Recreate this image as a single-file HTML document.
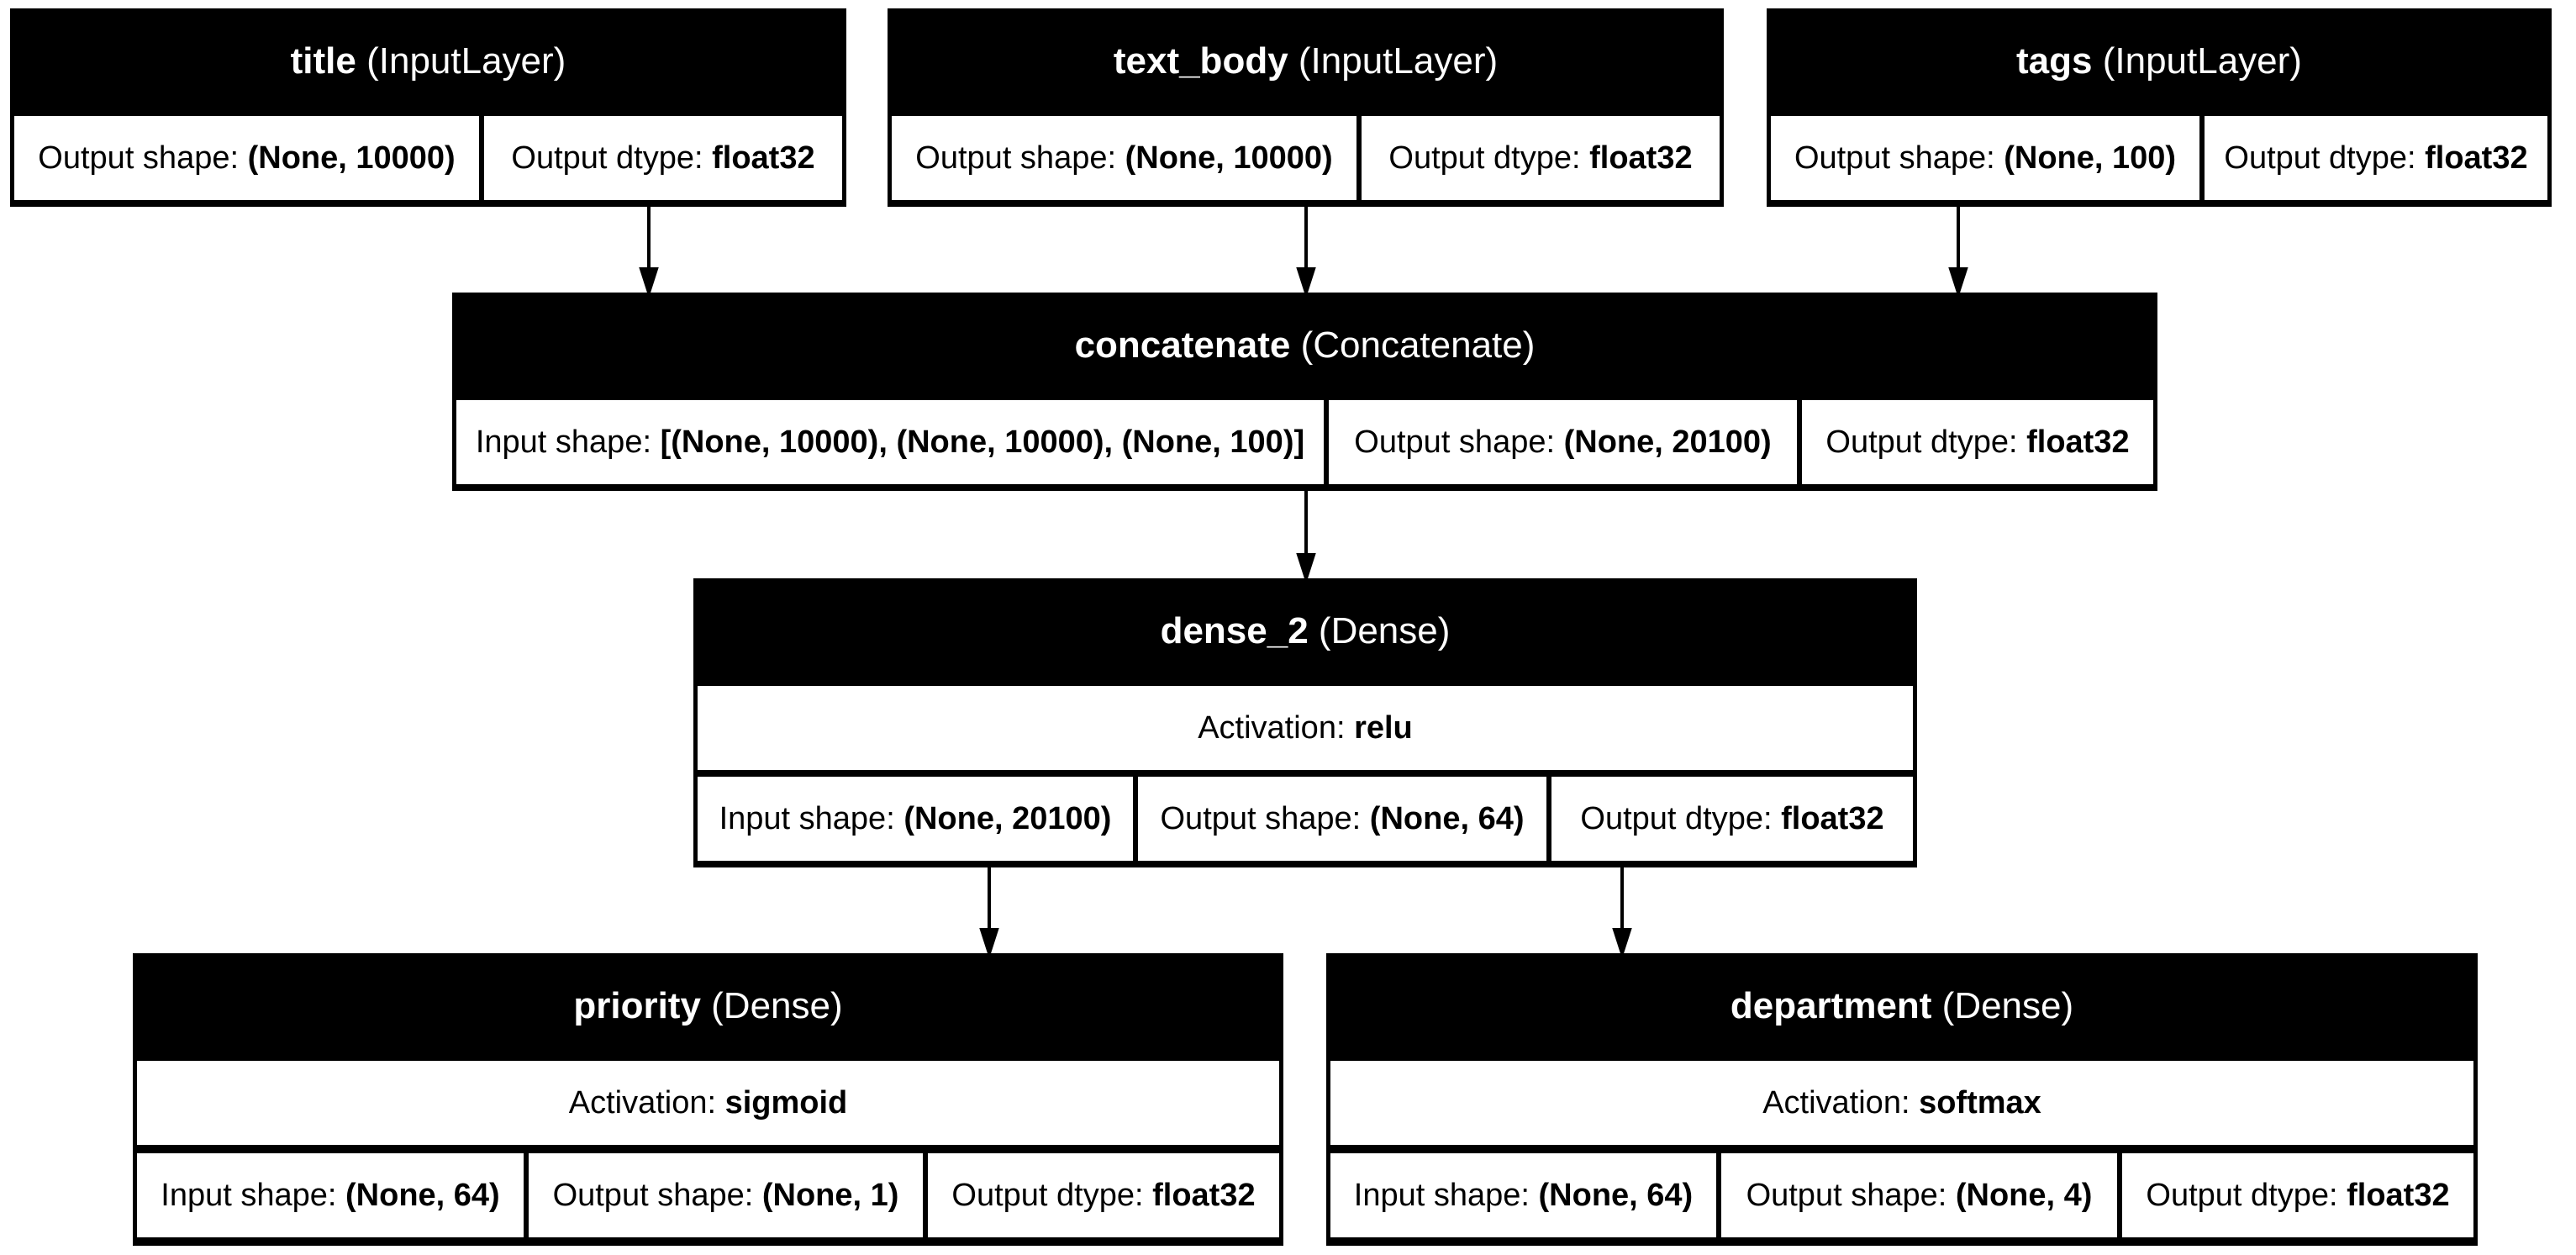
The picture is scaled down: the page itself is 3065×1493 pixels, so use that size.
<!DOCTYPE html>
<html><head><meta charset="utf-8">
<style>
html,body{margin:0;padding:0;background:#fff;}
body{width:3065px;height:1493px;position:relative;overflow:hidden;font-family:"Liberation Sans",Arial,sans-serif;font-size:38px;}
.b{position:absolute;background:#000;}
.h{position:absolute;left:0;right:0;top:0;height:126px;color:#fff;display:flex;align-items:center;justify-content:center;white-space:nowrap;font-size:44px;}
.c{position:absolute;background:#fff;height:100px;display:flex;align-items:center;justify-content:center;white-space:nowrap;color:#000;}
b{font-weight:bold;}
svg{position:absolute;left:0;top:0;}
</style></head><body>
<svg width="3065" height="1493">
<g stroke="#000" stroke-width="4" fill="#000">
<line x1="772" y1="244" x2="772" y2="322"/><polygon points="763,320 781,320 772,348"/>
<line x1="1554" y1="244" x2="1554" y2="322"/><polygon points="1545,320 1563,320 1554,348"/>
<line x1="2330" y1="244" x2="2330" y2="322"/><polygon points="2321,320 2339,320 2330,348"/>
<line x1="1554" y1="582" x2="1554" y2="662"/><polygon points="1545,660 1563,660 1554,688"/>
<line x1="1177" y1="1030" x2="1177" y2="1108"/><polygon points="1168,1106 1186,1106 1177,1134"/>
<line x1="1930" y1="1030" x2="1930" y2="1108"/><polygon points="1921,1106 1939,1106 1930,1134"/>
</g></svg>

<div class="b" style="left:12px;top:10px;width:995px;height:236px;">
<div class="h"><b>title</b>&nbsp;(InputLayer)</div>
<div class="c" style="left:5px;top:128px;width:553px;">Output shape:&nbsp;<b>(None, 10000)</b></div>
<div class="c" style="left:564px;top:128px;width:426px;">Output dtype:&nbsp;<b>float32</b></div>
</div>

<div class="b" style="left:1056px;top:10px;width:995px;height:236px;">
<div class="h"><b>text_body</b>&nbsp;(InputLayer)</div>
<div class="c" style="left:5px;top:128px;width:553px;">Output shape:&nbsp;<b>(None, 10000)</b></div>
<div class="c" style="left:564px;top:128px;width:426px;">Output dtype:&nbsp;<b>float32</b></div>
</div>

<div class="b" style="left:2102px;top:10px;width:934px;height:236px;">
<div class="h"><b>tags</b>&nbsp;(InputLayer)</div>
<div class="c" style="left:5px;top:128px;width:510px;">Output shape:&nbsp;<b>(None, 100)</b></div>
<div class="c" style="left:521px;top:128px;width:408px;">Output dtype:&nbsp;<b>float32</b></div>
</div>

<div class="b" style="left:538px;top:348px;width:2029px;height:236px;">
<div class="h"><b>concatenate</b>&nbsp;(Concatenate)</div>
<div class="c" style="left:5px;top:128px;width:1032px;">Input shape:&nbsp;<b>[(None, 10000), (None, 10000), (None, 100)]</b></div>
<div class="c" style="left:1043px;top:128px;width:557px;">Output shape:&nbsp;<b>(None, 20100)</b></div>
<div class="c" style="left:1606px;top:128px;width:418px;">Output dtype:&nbsp;<b>float32</b></div>
</div>

<div class="b" style="left:825px;top:688px;width:1456px;height:344px;">
<div class="h"><b>dense_2</b>&nbsp;(Dense)</div>
<div class="c" style="left:5px;top:128px;width:1446px;">Activation:&nbsp;<b>relu</b></div>
<div class="c" style="left:5px;top:236px;width:518px;">Input shape:&nbsp;<b>(None, 20100)</b></div>
<div class="c" style="left:529px;top:236px;width:486px;">Output shape:&nbsp;<b>(None, 64)</b></div>
<div class="c" style="left:1021px;top:236px;width:430px;">Output dtype:&nbsp;<b>float32</b></div>
</div>

<div class="b" style="left:158px;top:1134px;width:1369px;height:348px;">
<div class="h"><b>priority</b>&nbsp;(Dense)</div>
<div class="c" style="left:5px;top:128px;width:1359px;">Activation:&nbsp;<b>sigmoid</b></div>
<div class="c" style="left:5px;top:238px;width:460px;">Input shape:&nbsp;<b>(None, 64)</b></div>
<div class="c" style="left:471px;top:238px;width:469px;">Output shape:&nbsp;<b>(None, 1)</b></div>
<div class="c" style="left:946px;top:238px;width:418px;">Output dtype:&nbsp;<b>float32</b></div>
</div>

<div class="b" style="left:1578px;top:1134px;width:1370px;height:348px;">
<div class="h"><b>department</b>&nbsp;(Dense)</div>
<div class="c" style="left:5px;top:128px;width:1360px;">Activation:&nbsp;<b>softmax</b></div>
<div class="c" style="left:5px;top:238px;width:459px;">Input shape:&nbsp;<b>(None, 64)</b></div>
<div class="c" style="left:470px;top:238px;width:471px;">Output shape:&nbsp;<b>(None, 4)</b></div>
<div class="c" style="left:947px;top:238px;width:418px;">Output dtype:&nbsp;<b>float32</b></div>
</div>
</body></html>
